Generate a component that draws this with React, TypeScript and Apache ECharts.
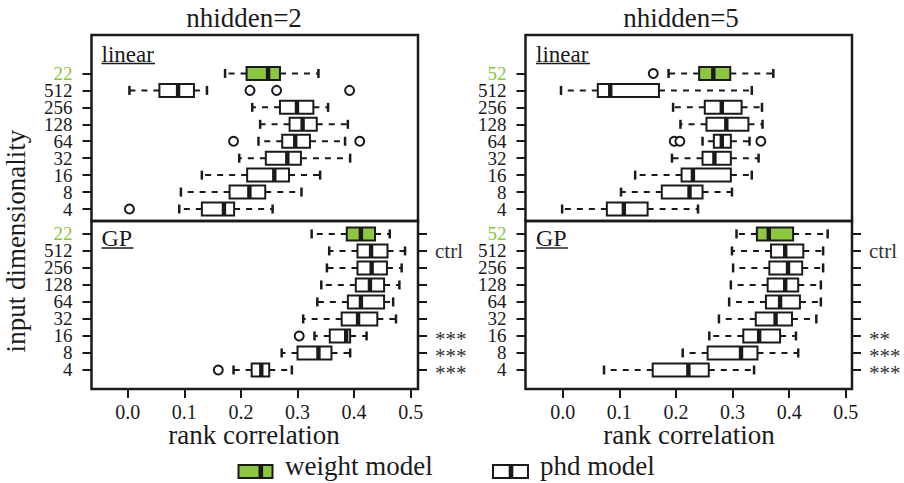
import React, { useEffect, useRef } from 'react';
import * as echarts from 'echarts';

const FONT = "'Liberation Serif', 'DejaVu Serif', serif";
const GREEN = '#8dc63f';
const INK = '#1a1a1a';

// row order: bottom (4) to top (weight model)
const dimsN2 = ['4', '8', '16', '32', '64', '128', '256', '512', '22'];
const dimsN5 = ['4', '8', '16', '32', '64', '128', '256', '512', '52'];
const sigN2 = ['***', '***', '***', '', '', '', '', 'ctrl', ''];
const sigN5 = ['***', '***', '**', '', '', '', '', 'ctrl', ''];
const xTicks = [0, 0.1, 0.2, 0.3, 0.4, 0.5];
const rowTicks = [0, 1, 2, 3, 4, 5, 6, 7, 8];

// [low whisker, Q1, median, Q3, high whisker]
const n2Linear = [
  [0.091, 0.131, 0.170, 0.188, 0.256],
  [0.094, 0.180, 0.215, 0.243, 0.307],
  [0.131, 0.211, 0.259, 0.285, 0.340],
  [0.197, 0.244, 0.282, 0.306, 0.393],
  [0.231, 0.273, 0.296, 0.322, 0.384],
  [0.234, 0.286, 0.309, 0.334, 0.389],
  [0.220, 0.269, 0.299, 0.328, 0.354],
  [0.003, 0.056, 0.089, 0.117, 0.140],
  [0.172, 0.210, 0.248, 0.269, 0.337],
];
// [row, value]
const n2LinearOut = [[0, 0.003], [4, 0.187], [4, 0.410], [7, 0.216], [7, 0.263], [7, 0.392]];

const n2GP = [
  [0.187, 0.219, 0.236, 0.250, 0.290],
  [0.272, 0.300, 0.337, 0.360, 0.393],
  [0.330, 0.357, 0.386, 0.393, 0.422],
  [0.310, 0.378, 0.407, 0.441, 0.474],
  [0.335, 0.389, 0.412, 0.453, 0.469],
  [0.342, 0.403, 0.428, 0.453, 0.480],
  [0.352, 0.406, 0.431, 0.458, 0.484],
  [0.356, 0.406, 0.430, 0.459, 0.490],
  [0.325, 0.387, 0.412, 0.437, 0.463],
];
const n2GPOut = [[0, 0.160], [2, 0.303]];

const n5Linear = [
  [-0.001, 0.078, 0.108, 0.150, 0.239],
  [0.103, 0.175, 0.224, 0.247, 0.299],
  [0.128, 0.210, 0.230, 0.297, 0.334],
  [0.193, 0.247, 0.268, 0.297, 0.346],
  [0.247, 0.267, 0.281, 0.297, 0.330],
  [0.208, 0.254, 0.289, 0.328, 0.353],
  [0.195, 0.251, 0.281, 0.316, 0.352],
  [-0.003, 0.062, 0.084, 0.170, 0.334],
  [0.187, 0.241, 0.266, 0.296, 0.372],
];
const n5LinearOut = [[4, 0.197], [4, 0.207], [4, 0.350], [8, 0.160]];

const n5GP = [
  [0.073, 0.159, 0.222, 0.258, 0.338],
  [0.212, 0.256, 0.315, 0.344, 0.416],
  [0.259, 0.319, 0.347, 0.384, 0.412],
  [0.276, 0.341, 0.376, 0.405, 0.448],
  [0.294, 0.359, 0.384, 0.419, 0.456],
  [0.297, 0.362, 0.393, 0.416, 0.456],
  [0.301, 0.365, 0.398, 0.423, 0.460],
  [0.299, 0.368, 0.393, 0.425, 0.460],
  [0.307, 0.343, 0.364, 0.407, 0.468],
];
const n5GPOut: number[][] = [];

const renderBox = (_params: any, api: any) => {
  const row = api.value(0);
  const xs = [1, 2, 3, 4, 5].map((k) => api.coord([api.value(k), row]));
  const y = xs[0][1];
  const [pl, pq1, pm, pq3, ph] = xs.map((p: number[]) => p[0]);
  const green = api.value(6) === 1;
  const h = 13;
  const whisk = { stroke: INK, lineWidth: 2, lineDash: [6, 6], fill: null };
  return {
    type: 'group',
    children: [
      { type: 'line', shape: { x1: pq1, y1: y, x2: pl, y2: y }, style: whisk },
      { type: 'line', shape: { x1: pq3, y1: y, x2: ph, y2: y }, style: whisk },
      { type: 'line', shape: { x1: pl, y1: y - 4.5, x2: pl, y2: y + 4.5 }, style: { stroke: INK, lineWidth: 2.5 } },
      { type: 'line', shape: { x1: ph, y1: y - 4.5, x2: ph, y2: y + 4.5 }, style: { stroke: INK, lineWidth: 2.5 } },
      {
        type: 'rect',
        shape: { x: pq1, y: y - h / 2, width: pq3 - pq1, height: h },
        style: { fill: green ? GREEN : '#ffffff', stroke: INK, lineWidth: 2 },
      },
      { type: 'rect', shape: { x: pm - 2.2, y: y - h / 2, width: 4.4, height: h }, style: { fill: INK } },
    ],
  };
};

const boxData = (stats: number[][]) => stats.map((s, i) => [i, ...s, i === 8 ? 1 : 0]);
const outData = (o: number[][]) => o.map(([r, v]) => [v, r]);

const TOP_MIN = -0.708, TOP_MAX = 10.27;
const BOT_MIN = -1.12, BOT_MAX = 8.76;
const LX0 = -0.064, LX1 = 0.5129, RX0 = -0.0657, RX1 = 0.511;

// labels of alternate rows are split over two overlaid axes so that none is dropped
const yLeft = (gridIndex: number, min: number, max: number, dims: string[], parity: number, ticks: boolean) => ({
  type: 'value', gridIndex, min, max, position: 'left',
  splitLine: { show: false }, axisLine: { show: false, onZero: false },
  axisTick: { show: ticks, length: 9, lineStyle: { color: INK, width: 2 }, customValues: rowTicks },
  axisLabel: {
    customValues: rowTicks.filter((i) => i % 2 === parity), margin: 19, fontFamily: FONT, fontSize: 19, color: INK,
    showMinLabel: true, showMaxLabel: true, hideOverlap: false,
    formatter: (v: number) => {
      const i = Math.round(v);
      return i === 8 ? `{g|${dims[i]}}` : dims[i];
    },
    rich: { g: { color: GREEN, fontFamily: FONT, fontSize: 19 } },
  },
});

const yRight = (gridIndex: number, sig: string[], parity: number, ticks: boolean) => ({
  type: 'value', gridIndex, min: BOT_MIN, max: BOT_MAX, position: 'right',
  splitLine: { show: false }, axisLine: { show: false, onZero: false },
  axisTick: { show: ticks, length: 9, lineStyle: { color: INK, width: 2 }, customValues: rowTicks },
  axisLabel: {
    customValues: rowTicks.filter((i) => sig[i] !== '' && i % 2 === parity), margin: 17, fontFamily: FONT, fontSize: 21,
    color: '#333', showMinLabel: true, showMaxLabel: true, hideOverlap: false,
    formatter: (v: number) => {
      const s = sig[Math.round(v)];
      return s.indexOf('*') >= 0 ? `{s|${s}}` : s;
    },
    rich: { s: { fontFamily: FONT, fontSize: 21, color: '#333', lineHeight: 16, padding: [7, 0, 0, 0] } },
  },
});

const xAx = (gridIndex: number, min: number, max: number, show: boolean) => ({
  type: 'value', gridIndex, min, max, show,
  splitLine: { show: false }, axisLine: { show: false, onZero: false },
  axisTick: { show: true, length: 9, lineStyle: { color: INK, width: 2 }, customValues: xTicks },
  axisLabel: {
    customValues: xTicks, margin: 12.5, fontFamily: FONT, fontSize: 20, color: INK,
    showMinLabel: true, showMaxLabel: true,
    formatter: (v: number) => v.toFixed(1),
  },
});

const txt = (text: string, x: number, y: number, size: number, align = 'left', extra: any = {}) => ({
  type: 'text', x, y, silent: true, ...extra,
  style: {
    text, fill: INK, font: `${size}px ${FONT}`,
    align, verticalAlign: 'middle', textAlign: align, textVerticalAlign: 'middle',
  },
});

const uline = (x1: number, x2: number, y: number) => ({
  type: 'line', silent: true, shape: { x1, y1: y, x2, y2: y }, style: { stroke: INK, lineWidth: 1.4 },
});

const legendIcon = (x: number, y: number, w: number, h: number, fill: string, medX: number) => ({
  type: 'group', silent: true,
  children: [
    { type: 'rect', shape: { x, y, width: w, height: h }, style: { fill, stroke: INK, lineWidth: 2 } },
    { type: 'rect', shape: { x: medX - 2.3, y, width: 4.6, height: h }, style: { fill: INK } },
  ],
});

export default function App() {
  const ref = useRef<HTMLDivElement>(null);
  useEffect(() => {
    if (!ref.current) return;
    const chart = echarts.init(ref.current, undefined, { renderer: 'svg' });
    const gridBase = { show: true, borderColor: INK, borderWidth: 2.5, backgroundColor: 'transparent', containLabel: false };
    const rects = [
      { left: 91.5, top: 35, width: 326.5, height: 186 },
      { left: 91.5, top: 221, width: 326.5, height: 168 },
      { left: 525.5, top: 35, width: 326.5, height: 186 },
      { left: 525.5, top: 221, width: 326.5, height: 168 },
    ];
    const grids = [
      ...rects.map((r) => ({ ...gridBase, ...r })),
      ...rects.map((r) => ({ ...r, show: false, containLabel: false })),
    ];
    const series: any[] = [];
    const panels = [
      { stats: n2Linear, out: n2LinearOut, xi: 0, yi: 0 },
      { stats: n2GP, out: n2GPOut, xi: 1, yi: 1 },
      { stats: n5Linear, out: n5LinearOut, xi: 2, yi: 2 },
      { stats: n5GP, out: n5GPOut, xi: 3, yi: 3 },
    ];
    panels.forEach((p) => {
      series.push({
        type: 'custom', xAxisIndex: p.xi, yAxisIndex: p.yi, renderItem: renderBox,
        dimensions: ['row', 'low', 'q1', 'med', 'q3', 'high', 'w'],
        encode: { x: [1, 2, 3, 4, 5], y: 0 }, data: boxData(p.stats), clip: false, silent: true,
      });
      series.push({
        type: 'scatter', xAxisIndex: p.xi, yAxisIndex: p.yi, data: outData(p.out), symbol: 'circle', symbolSize: 9,
        itemStyle: { color: '#ffffff', borderColor: INK, borderWidth: 2, opacity: 1 }, silent: true, z: 5,
      });
    });
    chart.setOption({
      animation: false,
      backgroundColor: '#ffffff',
      textStyle: { fontFamily: FONT },
      grid: grids,
      xAxis: [
        xAx(0, LX0, LX1, false),
        xAx(1, LX0, LX1, true),
        xAx(2, RX0, RX1, false),
        xAx(3, RX0, RX1, true),
        xAx(4, LX0, LX1, false),
        xAx(5, LX0, LX1, false),
        xAx(6, RX0, RX1, false),
        xAx(7, RX0, RX1, false),
      ],
      yAxis: [
        yLeft(0, TOP_MIN, TOP_MAX, dimsN2, 0, true),
        yLeft(1, BOT_MIN, BOT_MAX, dimsN2, 0, true),
        yLeft(2, TOP_MIN, TOP_MAX, dimsN5, 0, true),
        yLeft(3, BOT_MIN, BOT_MAX, dimsN5, 0, true),
        yRight(1, sigN2, 0, true),
        yRight(3, sigN5, 0, true),
        yLeft(4, TOP_MIN, TOP_MAX, dimsN2, 1, false),
        yLeft(5, BOT_MIN, BOT_MAX, dimsN2, 1, false),
        yLeft(6, TOP_MIN, TOP_MAX, dimsN5, 1, false),
        yLeft(7, BOT_MIN, BOT_MAX, dimsN5, 1, false),
        yRight(5, sigN2, 1, false),
        yRight(7, sigN5, 1, false),
      ],
      series,
      graphic: [
        txt('nhidden=2', 244, 18, 27, 'center'),
        txt('nhidden=5', 681, 18, 27, 'center'),
        txt('input dimensionality', 16, 241, 27, 'center', { rotation: Math.PI / 2 }),
        txt('rank correlation', 254, 435, 27, 'center'),
        txt('rank correlation', 689, 435, 27, 'center'),
        txt('linear', 101.5, 54, 23),
        uline(101.5, 155, 63.5),
        txt('GP', 101.5, 238, 24),
        uline(101.5, 133.5, 248),
        txt('linear', 536, 54, 23),
        uline(536, 590, 63.5),
        txt('GP', 536, 238, 24),
        uline(536, 568, 248),
        legendIcon(238.5, 465, 34, 13, GREEN, 260.8),
        txt('weight model', 285, 466, 27),
        legendIcon(493, 465, 35, 13, '#ffffff', 511),
        txt('phd model', 540, 466, 27),
      ],
    });
    return () => chart.dispose();
  }, []);
  return (
    <div
      ref={ref}
      style={{ position: 'fixed', left: 0, top: 0, width: 904, height: 483, background: '#ffffff' }}
    />
  );
}
